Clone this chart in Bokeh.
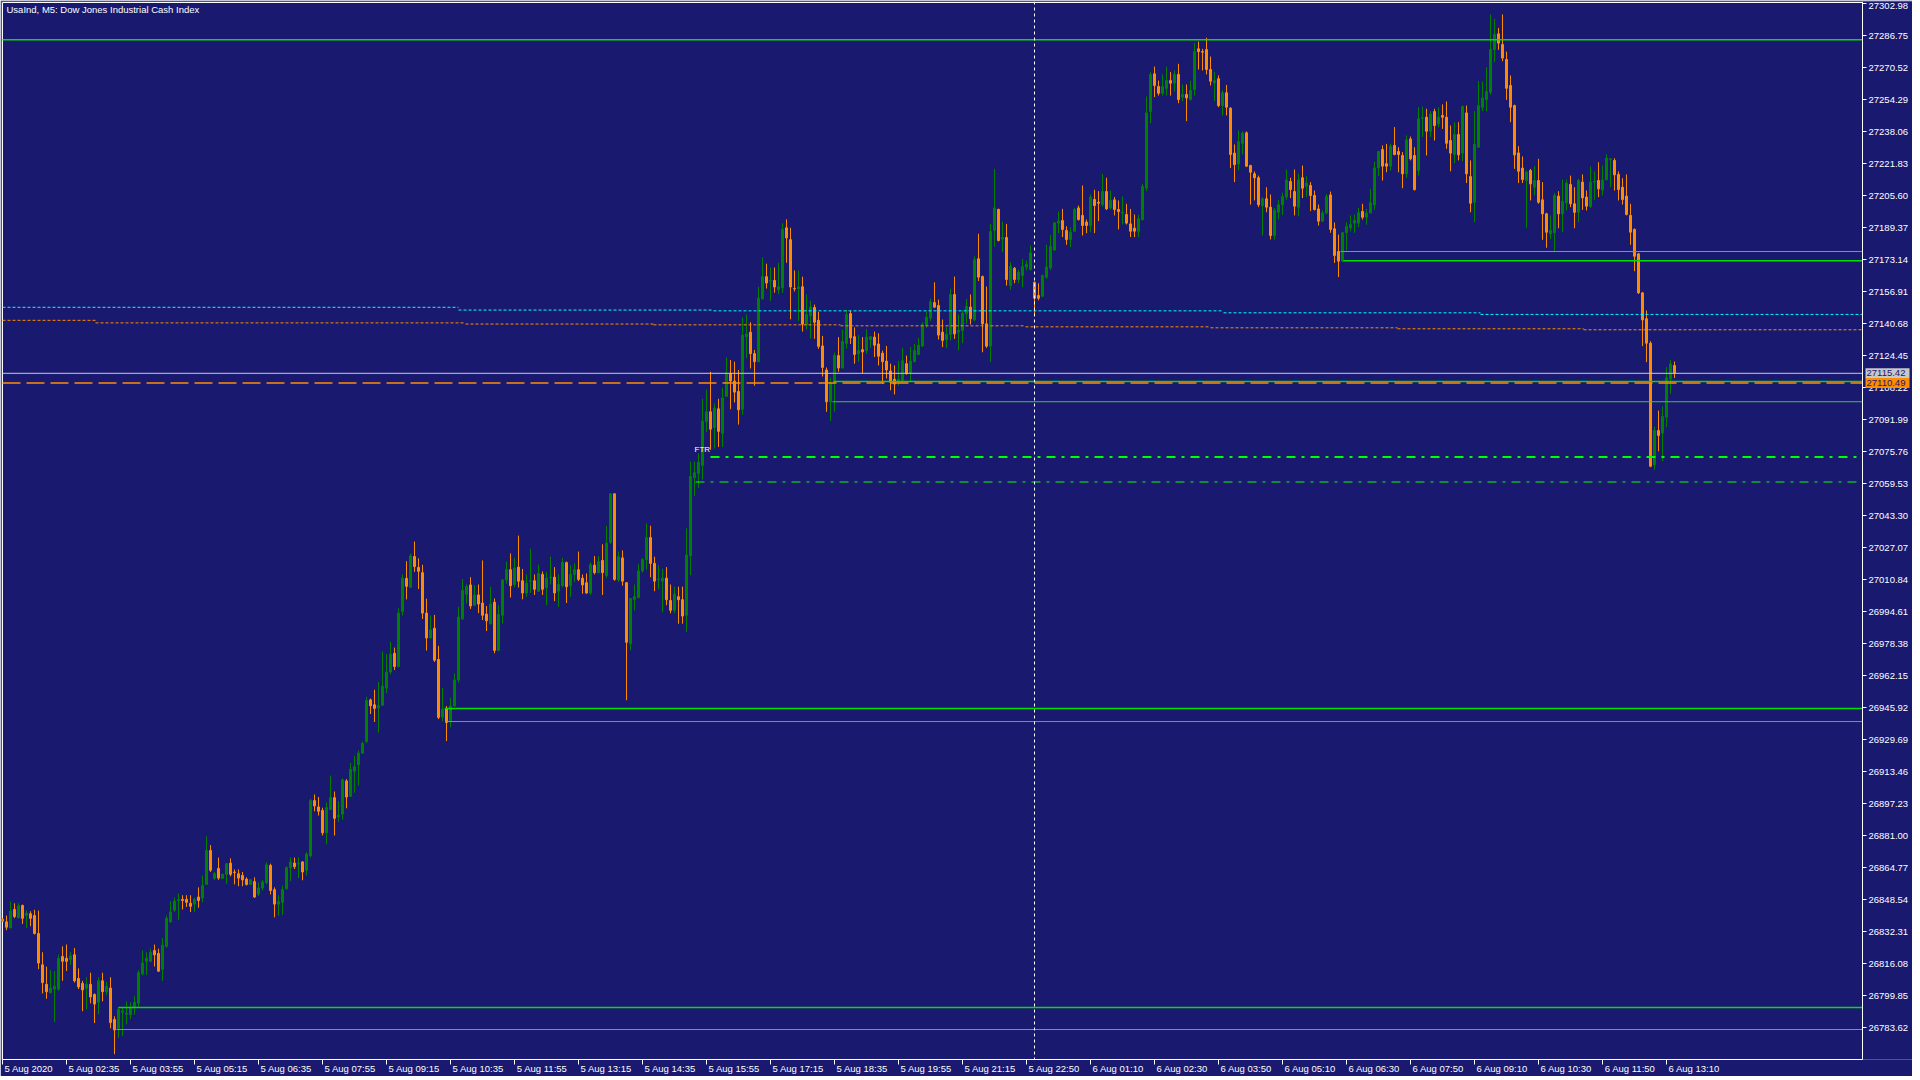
from bokeh.plotting import figure
from bokeh.models import (Range1d, FixedTicker, Label, Span, PrintfTickFormatter,
                          ColumnDataSource, LinearAxis)
from bokeh.core.properties import value
from bokeh.embed import file_html
from bokeh.resources import INLINE

TITLE = "UsaInd, M5:  Dow Jones Industrial Cash Index"

opens = [
26838.6, 26837.2, 26834.1, 26843.5, 26839.3, 26845.5, 26840.4, 26841.3, 26840.4, 26831.3,
26815.4, 26805.5, 26801.3, 26803.1, 26803.1, 26819.6, 26818.7, 26818.1, 26820.5, 26808.5,
26806.0, 26803.6, 26805.5, 26800.4, 26796.4, 26807.3, 26801.8, 26803.6, 26787.7, 26783.2,
26791.3, 26790.4, 26790.1, 26793.7, 26795.9, 26810.9, 26817.2, 26817.2, 26822.7, 26821.2,
26813.2, 26824.8, 26837.2, 26843.1, 26848.0, 26848.6, 26848.6, 26846.6, 26846.2, 26849.8,
26849.3, 26856.2, 26873.4, 26859.3, 26864.3, 26859.3, 26861.3, 26867.0, 26862.5, 26861.6,
26860.7, 26858.9, 26856.2, 26857.6, 26851.3, 26854.4, 26857.1, 26865.8, 26853.5, 26846.2,
26847.1, 26854.0, 26864.7, 26867.0, 26866.5, 26867.6, 26863.4, 26870.7, 26898.7, 26895.5,
26893.7, 26882.4, 26894.2, 26900.2, 26890.6, 26891.8, 26908.7, 26900.9, 26913.6, 26916.9,
26922.8, 26928.6, 26949.8, 26947.3, 26945.8, 26947.1, 26955.8, 26963.9, 26973.4, 26966.7,
26994.7, 27011.4, 27006.9, 27022.5, 27017.0, 27014.3, 26993.8, 26981.2, 26986.1, 26970.3,
26941.1, 26945.2, 26938.9, 26946.7, 26959.9, 26990.8, 27003.4, 27008.1, 26997.8, 27003.0,
26998.9, 26993.3, 26988.4, 26999.3, 26974.9, 26992.7, 27010.6, 27015.8, 27008.3, 27017.1,
27010.2, 27004.0, 27010.0, 27010.2, 27004.9, 27013.4, 27006.8, 27011.9, 27012.0, 27004.9,
27007.7, 27019.4, 27007.7, 27013.4, 27015.8, 27011.5, 27009.2, 27004.0, 27018.1, 27014.3,
27020.5, 27012.8, 27029.7, 27054.3, 27010.6, 27021.8, 27009.2, 26978.3, 27000.8, 27001.7,
27015.2, 27020.9, 27032.1, 27019.0, 27010.9, 27010.0, 27011.5, 27000.2, 26995.2, 27002.1,
27000.6, 26992.7, 27022.8, 27062.5, 27064.6, 27068.7, 27090.9, 27095.9, 27087.9, 27097.4,
27085.0, 27103.8, 27115.2, 27111.5, 27106.2, 27097.2, 27134.0, 27136.3, 27125.4, 27121.3,
27153.2, 27164.4, 27162.2, 27162.5, 27157.8, 27158.8, 27189.2, 27183.2, 27158.4, 27158.4,
27159.3, 27140.0, 27144.7, 27148.8, 27142.3, 27129.3, 27117.1, 27101.0, 27110.9, 27124.4,
27118.1, 27130.6, 27145.7, 27134.0, 27125.4, 27127.4, 27126.9, 27132.5, 27133.8, 27130.3,
27125.6, 27121.6, 27116.6, 27112.4, 27110.9, 27111.9, 27120.3, 27115.2, 27121.3, 27125.0,
27129.3, 27140.0, 27143.4, 27151.3, 27149.8, 27136.3, 27132.6, 27135.1, 27155.4, 27136.3,
27137.1, 27145.6, 27149.0, 27142.5, 27173.5, 27164.5, 27140.5, 27129.2, 27187.9, 27198.5,
27183.5, 27184.3, 27159.9, 27168.7, 27163.0, 27165.0, 27169.3, 27168.1, 27161.6, 27154.9,
27154.5, 27164.2, 27168.9, 27178.0, 27191.6, 27192.9, 27187.9, 27183.3, 27187.5, 27199.3,
27195.5, 27192.1, 27190.4, 27203.6, 27202.2, 27201.0, 27207.6, 27199.3, 27203.4, 27198.5,
27196.8, 27196.0, 27191.2, 27189.0, 27187.5, 27193.4, 27209.3, 27248.2, 27267.3, 27260.9,
27257.5, 27260.0, 27263.9, 27262.6, 27267.0, 27255.5, 27256.8, 27254.3, 27259.4, 27280.0,
27278.6, 27279.6, 27269.5, 27262.7, 27264.8, 27251.2, 27257.7, 27249.9, 27227.1, 27221.7,
27232.1, 27237.4, 27220.8, 27216.6, 27214.6, 27200.5, 27203.9, 27199.7, 27185.3, 27197.1,
27200.9, 27204.8, 27212.7, 27207.6, 27199.7, 27214.6, 27210.3, 27210.7, 27205.6, 27198.8,
27192.6, 27196.8, 27205.9, 27188.7, 27177.2, 27172.3, 27186.7, 27189.2, 27191.6, 27191.6,
27197.5, 27194.6, 27196.8, 27200.9, 27219.6, 27228.9, 27221.7, 27220.5, 27231.0, 27227.9,
27225.9, 27216.6, 27234.3, 27225.9, 27218.3, 27244.8, 27245.3, 27238.2, 27248.2, 27241.9,
27246.2, 27245.3, 27233.5, 27226.4, 27236.5, 27227.1, 27247.5, 27215.2, 27202.2, 27230.1,
27250.4, 27254.3, 27258.0, 27279.6, 27287.6, 27282.2, 27274.6, 27261.4, 27251.2, 27227.2,
27219.5, 27213.2, 27218.3, 27209.8, 27213.2, 27203.4, 27196.3, 27186.2, 27186.7, 27205.3,
27196.3, 27201.9, 27211.2, 27201.4, 27197.1, 27212.4, 27204.8, 27200.0, 27212.4, 27213.2,
27208.5, 27213.7, 27223.9, 27223.4, 27216.3, 27209.8, 27205.3, 27195.5, 27188.4, 27176.0,
27156.2, 27143.1, 27130.7, 27069.0, 27086.4, 27085.1, 27093.2, 27112.6, 27119.4]

highs = [
26839.0, 26840.4, 26847.5, 26846.6, 26846.6, 26846.0, 26843.1, 26842.6, 26843.3, 26842.9,
26821.8, 26814.5, 26812.7, 26812.2, 26820.5, 26824.8, 26825.7, 26821.8, 26823.9, 26813.6,
26807.3, 26809.1, 26811.4, 26800.9, 26809.1, 26811.4, 26806.7, 26809.1, 26789.3, 26794.0,
26794.0, 26796.8, 26796.4, 26799.5, 26812.7, 26822.7, 26821.8, 26823.6, 26825.7, 26823.6,
26829.0, 26840.4, 26847.7, 26849.5, 26851.6, 26850.7, 26850.7, 26850.7, 26849.5, 26854.7,
26860.7, 26880.6, 26876.1, 26862.5, 26869.8, 26861.6, 26867.0, 26869.4, 26863.8, 26863.8,
26862.5, 26859.8, 26858.9, 26859.8, 26857.1, 26858.5, 26867.4, 26866.7, 26854.7, 26850.7,
26855.6, 26865.2, 26869.8, 26869.8, 26869.8, 26868.0, 26872.5, 26899.6, 26901.8, 26900.5,
26895.1, 26897.8, 26911.4, 26903.3, 26898.4, 26910.0, 26909.6, 26917.8, 26921.4, 26924.1,
26928.6, 26951.3, 26950.4, 26954.9, 26958.9, 26974.3, 26973.0, 26979.3, 26976.3, 26996.2,
27013.4, 27020.1, 27024.1, 27030.1, 27021.6, 27018.3, 27001.1, 26992.6, 26992.9, 26977.2,
26955.8, 26946.7, 26950.9, 26963.1, 26997.0, 27011.1, 27008.3, 27012.0, 27008.0, 27008.3,
27020.5, 26997.4, 27007.2, 27001.2, 26997.8, 27011.1, 27019.9, 27024.1, 27021.8, 27033.1,
27016.2, 27013.4, 27026.5, 27013.4, 27018.4, 27014.9, 27014.7, 27022.4, 27017.1, 27013.4,
27021.8, 27020.0, 27018.1, 27019.0, 27025.0, 27013.4, 27013.9, 27019.6, 27022.7, 27022.7,
27028.7, 27038.1, 27054.5, 27054.5, 27025.0, 27025.6, 27009.5, 27001.5, 27008.3, 27018.6,
27021.8, 27039.3, 27038.1, 27022.4, 27018.1, 27016.2, 27017.1, 27008.3, 27007.2, 27007.2,
27007.2, 27036.8, 27070.6, 27070.6, 27074.9, 27102.5, 27107.2, 27116.2, 27100.1, 27102.5,
27108.1, 27123.5, 27122.2, 27121.3, 27117.1, 27143.8, 27145.3, 27141.3, 27127.3, 27159.3,
27174.2, 27171.0, 27169.1, 27169.1, 27171.5, 27191.6, 27193.5, 27189.2, 27167.6, 27167.6,
27164.4, 27155.4, 27152.2, 27150.3, 27146.6, 27134.4, 27118.4, 27113.2, 27125.9, 27133.8,
27137.6, 27147.5, 27147.2, 27138.7, 27134.8, 27133.8, 27137.8, 27134.4, 27136.6, 27135.7,
27126.9, 27129.3, 27120.3, 27119.4, 27121.8, 27128.4, 27124.4, 27128.8, 27130.3, 27133.4,
27141.3, 27146.6, 27153.2, 27161.6, 27152.8, 27142.7, 27139.1, 27158.3, 27164.5, 27145.2,
27147.3, 27153.2, 27155.4, 27174.7, 27186.2, 27165.0, 27159.4, 27191.2, 27219.1, 27199.0,
27192.4, 27191.2, 27171.8, 27169.3, 27167.9, 27173.5, 27172.6, 27180.2, 27162.0, 27161.1,
27165.5, 27180.6, 27185.6, 27192.1, 27197.5, 27198.8, 27190.0, 27189.5, 27199.3, 27200.5,
27210.7, 27193.4, 27206.1, 27208.5, 27207.8, 27216.6, 27214.6, 27208.1, 27204.8, 27203.1,
27205.1, 27201.4, 27198.8, 27196.0, 27195.8, 27211.5, 27255.8, 27268.2, 27271.0, 27263.9,
27267.0, 27271.0, 27268.2, 27269.0, 27272.4, 27261.9, 27261.9, 27263.9, 27282.9, 27283.7,
27280.0, 27285.6, 27276.1, 27268.2, 27266.5, 27258.9, 27261.7, 27250.4, 27231.5, 27238.6,
27238.1, 27238.1, 27221.2, 27217.8, 27215.7, 27204.8, 27209.8, 27206.1, 27199.3, 27203.4,
27207.0, 27218.8, 27214.6, 27218.8, 27216.6, 27220.8, 27215.4, 27212.4, 27208.1, 27201.0,
27198.0, 27206.4, 27207.6, 27191.9, 27185.8, 27187.2, 27192.1, 27195.5, 27196.0, 27199.3,
27201.4, 27198.8, 27209.0, 27222.8, 27228.1, 27231.0, 27231.8, 27231.8, 27240.3, 27230.1,
27227.6, 27236.0, 27235.5, 27230.1, 27250.4, 27250.7, 27249.6, 27248.4, 27249.6, 27250.4,
27251.8, 27253.3, 27241.1, 27242.8, 27242.8, 27251.2, 27251.2, 27223.4, 27248.4, 27263.6,
27263.4, 27270.7, 27297.4, 27295.2, 27290.6, 27297.4, 27278.6, 27266.5, 27251.7, 27230.6,
27225.4, 27218.3, 27219.1, 27220.5, 27224.2, 27212.4, 27196.8, 27195.5, 27206.8, 27207.8,
27213.7, 27213.7, 27215.7, 27209.8, 27214.1, 27216.3, 27208.1, 27220.3, 27217.8, 27222.5,
27220.8, 27226.4, 27224.5, 27224.5, 27217.8, 27214.4, 27216.3, 27201.4, 27188.9, 27176.5,
27156.7, 27147.3, 27131.7, 27088.4, 27096.5, 27098.6, 27118.5, 27122.3, 27121.4]

lows = [
26837.2, 26833.0, 26834.1, 26839.0, 26839.0, 26836.1, 26834.1, 26835.0, 26830.8, 26813.2,
26800.9, 26798.2, 26800.9, 26786.4, 26802.2, 26807.3, 26812.2, 26815.4, 26806.4, 26803.1,
26791.9, 26792.8, 26795.9, 26785.9, 26790.4, 26796.9, 26800.0, 26783.2, 26770.1, 26778.3,
26779.2, 26785.2, 26787.9, 26790.1, 26793.7, 26810.0, 26810.3, 26816.9, 26814.5, 26811.8,
26807.3, 26824.1, 26836.8, 26842.2, 26838.1, 26843.5, 26844.8, 26842.2, 26842.2, 26844.4,
26847.1, 26856.2, 26862.5, 26858.5, 26858.5, 26858.9, 26856.5, 26860.3, 26856.2, 26855.3,
26855.3, 26855.6, 26855.8, 26849.3, 26850.2, 26853.1, 26856.2, 26851.1, 26839.5, 26840.2,
26840.8, 26853.5, 26857.8, 26864.0, 26859.4, 26858.3, 26860.7, 26869.8, 26893.3, 26891.1,
26881.0, 26876.5, 26893.8, 26881.0, 26887.9, 26889.1, 26894.8, 26900.5, 26902.7, 26906.3,
26922.4, 26927.7, 26942.6, 26938.6, 26933.2, 26946.8, 26953.1, 26962.7, 26964.9, 26966.3,
26992.6, 27000.7, 27006.5, 27014.7, 27006.0, 26990.8, 26974.8, 26980.8, 26969.0, 26940.0,
26938.9, 26928.9, 26935.9, 26946.4, 26958.6, 26990.5, 26998.7, 26995.9, 26997.4, 26993.8,
26990.3, 26984.7, 26988.0, 26973.4, 26974.5, 26988.6, 27008.7, 27001.7, 27006.8, 27006.8,
27000.8, 27002.1, 27004.0, 27003.0, 27004.5, 27003.0, 26997.8, 27008.3, 26999.9, 26997.0,
27006.8, 26998.9, 27002.1, 27009.6, 27010.0, 27003.6, 27003.6, 27003.0, 27013.4, 27013.9,
27003.0, 27011.5, 27028.7, 27010.2, 27009.6, 27007.7, 26949.6, 26974.9, 26995.2, 27001.2,
27014.3, 27015.8, 27012.0, 27004.9, 27005.9, 26994.2, 26997.8, 26993.7, 26993.7, 26988.4,
26988.4, 26984.3, 27013.0, 27053.3, 27057.1, 27061.6, 27085.6, 27076.6, 27077.2, 27078.1,
27078.1, 27103.4, 27097.2, 27100.6, 27089.4, 27094.4, 27123.1, 27117.9, 27109.1, 27121.0,
27152.8, 27158.4, 27152.2, 27156.3, 27155.6, 27156.3, 27171.5, 27142.8, 27156.9, 27141.9,
27136.6, 27137.6, 27133.1, 27132.9, 27127.8, 27113.8, 27095.9, 27091.2, 27095.9, 27116.2,
27117.9, 27127.8, 27130.3, 27120.3, 27121.3, 27115.2, 27125.4, 27128.4, 27123.7, 27119.4,
27110.0, 27112.8, 27106.8, 27104.7, 27109.1, 27110.9, 27114.8, 27110.9, 27121.0, 27124.6,
27128.8, 27138.5, 27141.9, 27148.5, 27132.5, 27128.7, 27128.3, 27132.1, 27132.9, 27127.0,
27130.7, 27140.5, 27140.2, 27141.9, 27162.2, 27126.1, 27128.3, 27121.1, 27179.7, 27182.3,
27176.9, 27159.9, 27157.9, 27161.1, 27161.1, 27159.1, 27167.6, 27167.6, 27145.2, 27152.4,
27154.0, 27163.3, 27167.9, 27177.4, 27186.5, 27184.5, 27180.6, 27179.4, 27187.3, 27192.9,
27185.3, 27186.5, 27187.0, 27186.5, 27192.6, 27200.0, 27198.3, 27198.5, 27195.5, 27188.4,
27190.9, 27190.9, 27184.5, 27184.5, 27184.5, 27192.9, 27207.8, 27242.3, 27255.5, 27256.3,
27256.3, 27256.3, 27256.3, 27258.3, 27252.4, 27253.3, 27243.3, 27253.8, 27256.3, 27269.5,
27269.0, 27267.0, 27261.4, 27253.4, 27250.4, 27246.2, 27246.2, 27219.5, 27212.4, 27218.3,
27226.4, 27220.0, 27201.0, 27203.1, 27199.7, 27185.3, 27197.1, 27183.3, 27183.3, 27193.4,
27195.8, 27203.4, 27204.3, 27195.5, 27195.0, 27204.3, 27204.8, 27197.7, 27198.0, 27190.4,
27192.1, 27196.0, 27186.7, 27171.4, 27164.2, 27171.8, 27177.7, 27187.5, 27186.7, 27189.5,
27193.4, 27190.7, 27196.3, 27198.3, 27215.4, 27213.2, 27217.4, 27218.3, 27226.0, 27217.4,
27209.3, 27214.6, 27223.4, 27208.1, 27215.7, 27235.2, 27225.9, 27235.2, 27233.5, 27240.3,
27239.4, 27229.3, 27217.9, 27222.0, 27223.4, 27223.0, 27211.9, 27197.1, 27192.1, 27229.8,
27248.4, 27248.4, 27256.8, 27273.2, 27279.5, 27273.7, 27254.1, 27242.8, 27219.1, 27211.9,
27211.9, 27189.0, 27203.1, 27205.6, 27201.4, 27183.1, 27179.1, 27183.6, 27176.9, 27189.0,
27187.0, 27198.0, 27199.7, 27189.0, 27192.1, 27198.3, 27198.0, 27199.3, 27203.4, 27204.8,
27205.6, 27213.2, 27209.8, 27208.1, 27203.1, 27201.0, 27195.5, 27180.6, 27167.2, 27155.7,
27129.2, 27121.1, 27067.8, 27066.5, 27075.9, 27070.9, 27088.1, 27105.0, 27113.0]

closes = [
26837.5, 26834.5, 26842.6, 26839.9, 26845.3, 26839.0, 26841.7, 26839.0, 26831.3, 26816.3,
26806.4, 26801.8, 26803.6, 26804.5, 26818.7, 26817.2, 26817.2, 26819.9, 26807.3, 26804.2,
26802.7, 26805.5, 26799.1, 26795.5, 26807.3, 26801.8, 26804.5, 26786.1, 26782.4, 26792.8,
26791.9, 26790.8, 26794.0, 26796.4, 26811.4, 26816.3, 26818.7, 26821.8, 26820.5, 26812.2,
26825.4, 26839.0, 26842.2, 26847.7, 26848.4, 26848.0, 26847.1, 26845.1, 26848.6, 26848.0,
26855.6, 26873.4, 26863.4, 26861.6, 26859.4, 26861.3, 26866.7, 26861.3, 26862.2, 26859.4,
26858.5, 26856.2, 26858.5, 26849.8, 26854.4, 26857.4, 26866.1, 26853.1, 26846.2, 26847.5,
26853.5, 26864.7, 26867.6, 26865.2, 26866.7, 26862.5, 26871.6, 26898.7, 26896.0, 26893.3,
26882.4, 26895.1, 26900.2, 26889.7, 26891.1, 26909.2, 26900.5, 26914.5, 26915.9, 26922.8,
26927.7, 26949.5, 26946.8, 26945.5, 26946.8, 26956.7, 26963.9, 26973.0, 26966.7, 26993.8,
27011.6, 27007.4, 27022.8, 27017.4, 27015.0, 26993.8, 26981.2, 26985.3, 26969.9, 26940.9,
26944.9, 26938.3, 26946.7, 26959.9, 26991.8, 27005.3, 27007.2, 26997.4, 27003.0, 26998.4,
26992.7, 26989.9, 26998.4, 26974.9, 26993.1, 27010.6, 27015.8, 27007.7, 27016.6, 27010.0,
27004.0, 27009.0, 27010.2, 27005.9, 27013.9, 27005.9, 27011.5, 27012.0, 27004.0, 27008.3,
27019.4, 27007.2, 27013.4, 27015.8, 27010.9, 27008.1, 27004.0, 27018.4, 27014.3, 27019.9,
27014.3, 27029.3, 27054.3, 27010.9, 27022.4, 27010.0, 26979.0, 27001.2, 27002.1, 27015.2,
27020.9, 27032.1, 27019.0, 27010.0, 27011.1, 27011.5, 27000.6, 26995.2, 27003.4, 27000.6,
26992.3, 27023.3, 27063.1, 27065.0, 27070.2, 27091.2, 27095.9, 27087.1, 27097.8, 27086.0,
27102.9, 27115.6, 27111.5, 27105.9, 27096.9, 27134.8, 27135.3, 27125.4, 27121.3, 27153.5,
27164.4, 27161.2, 27162.5, 27159.2, 27159.3, 27188.4, 27184.1, 27159.2, 27158.2, 27159.2,
27140.4, 27145.3, 27149.0, 27141.3, 27129.1, 27118.4, 27101.0, 27110.9, 27124.4, 27118.1,
27131.6, 27145.3, 27133.4, 27125.0, 27126.9, 27126.3, 27133.8, 27134.0, 27129.7, 27124.1,
27121.3, 27117.1, 27110.9, 27110.0, 27112.3, 27121.8, 27115.2, 27121.6, 27126.9, 27129.7,
27140.0, 27143.8, 27151.7, 27149.0, 27134.8, 27132.1, 27135.1, 27155.4, 27135.4, 27137.1,
27145.9, 27149.3, 27143.1, 27173.0, 27164.2, 27140.5, 27129.2, 27187.3, 27199.3, 27182.8,
27184.3, 27163.0, 27169.6, 27163.0, 27166.7, 27169.6, 27170.6, 27176.5, 27153.5, 27153.5,
27165.0, 27169.3, 27179.7, 27191.7, 27192.6, 27188.4, 27183.3, 27187.0, 27198.5, 27193.4,
27190.4, 27190.4, 27204.8, 27200.5, 27201.7, 27207.6, 27198.8, 27203.1, 27198.5, 27197.5,
27197.1, 27191.6, 27187.5, 27187.5, 27193.8, 27210.2, 27247.5, 27267.0, 27261.4, 27257.5,
27260.9, 27263.9, 27262.6, 27267.0, 27254.3, 27256.8, 27255.1, 27258.9, 27278.6, 27278.6,
27278.3, 27269.5, 27263.6, 27263.9, 27251.2, 27257.7, 27250.4, 27226.4, 27221.3, 27233.0,
27237.2, 27220.5, 27217.4, 27214.6, 27200.9, 27203.9, 27199.7, 27185.3, 27198.0, 27200.9,
27205.1, 27213.5, 27208.6, 27200.2, 27213.5, 27209.3, 27211.9, 27205.6, 27198.5, 27192.6,
27196.8, 27205.1, 27188.4, 27175.2, 27172.3, 27186.7, 27189.9, 27190.9, 27192.9, 27196.8,
27194.6, 27196.8, 27201.9, 27219.6, 27227.9, 27220.5, 27220.5, 27230.6, 27226.4, 27226.4,
27216.6, 27233.8, 27224.2, 27208.6, 27244.5, 27245.0, 27238.2, 27247.0, 27241.1, 27245.3,
27245.3, 27232.1, 27227.1, 27236.5, 27226.2, 27250.7, 27216.6, 27201.7, 27231.5, 27251.2,
27255.1, 27258.4, 27279.6, 27287.3, 27282.9, 27275.3, 27260.0, 27250.4, 27226.2, 27217.9,
27213.7, 27217.4, 27211.5, 27213.2, 27202.2, 27196.3, 27187.0, 27187.9, 27205.6, 27196.3,
27202.6, 27211.9, 27201.4, 27197.1, 27213.2, 27204.4, 27200.2, 27212.4, 27212.7, 27209.0,
27213.5, 27224.5, 27224.2, 27216.1, 27208.6, 27203.6, 27196.0, 27187.0, 27174.8, 27156.2,
27142.5, 27130.7, 27068.3, 27086.4, 27083.9, 27093.5, 27113.1, 27120.2, 27115.42]

# price axis ticks
y_ticks = [27302.98, 27286.75, 27270.52, 27254.29, 27238.06, 27221.83, 27205.60, 27189.37,
           27173.14, 27156.91, 27140.68, 27124.45, 27108.22, 27091.99, 27075.76, 27059.53,
           27043.30, 27027.07, 27010.84, 26994.61, 26978.38, 26962.15, 26945.92, 26929.69,
           26913.46, 26897.23, 26881.00, 26864.77, 26848.54, 26832.31, 26816.08, 26799.85,
           26783.62]

# time axis ticks (bar index -> label)
x_tick_bars = [0, 16, 32, 48, 64, 80, 96, 112, 128, 144, 160, 176, 192, 208, 224, 240, 256,
               272, 288, 304, 320, 336, 352, 368, 384, 400, 416]
x_tick_labels = ["5 Aug 2020", "5 Aug 02:35", "5 Aug 03:55", "5 Aug 05:15", "5 Aug 06:35",
                 "5 Aug 07:55", "5 Aug 09:15", "5 Aug 10:35", "5 Aug 11:55", "5 Aug 13:15",
                 "5 Aug 14:35", "5 Aug 15:55", "5 Aug 17:15", "5 Aug 18:35", "5 Aug 19:55",
                 "5 Aug 21:15", "5 Aug 22:50", "6 Aug 01:10", "6 Aug 02:30", "6 Aug 03:50",
                 "6 Aug 05:10", "6 Aug 06:30", "6 Aug 07:50", "6 Aug 09:10", "6 Aug 10:30",
                 "6 Aug 11:50", "6 Aug 13:10"]

# horizontal level lines (price, start bar)
green_levels = [27284.6, 27172.5, 27111.3, 26945.4, 26793.8]
green_starts = [0, 335.2, 207.75, 110.5, 29.0]
green2_levels = [27177.2, 27101.0, 26938.8, 26782.6]
green2_starts = [334.5, 207.5, 111.2, 28.5]
dashdot_levels = [27073.0, 27060.3]
dashdot_starts = [177.0, 173.25]
bid_price = 27115.42
line_price = 27110.49
cursor_bar = 258

cyan_x0 = [0, 114, 177.75, 305.25, 369.5]
cyan_x1 = [114, 177.75, 305.25, 369.5, 465]
cyan_y = [27148.9, 27147.5, 27147.1, 27146.1, 27145.3]
odot_x0 = [0, 23.25, 115.75, 162.75, 209.5, 255.75, 302, 348.75, 395.25]
odot_x1 = [23.25, 115.75, 162.75, 209.5, 255.75, 302, 348.75, 395.25, 465]
odot_y = [27142.3, 27141.0, 27140.4, 27140.0, 27139.5, 27139.0, 27138.5, 27138.0, 27137.5]

BG = "#191970"
UP = "#008000"
DN = "#FF8C00"
FONT = "Liberation Sans"
FS = 9.5
X_END = 465            # right edge of the chart (price scale line)
PX_PER_BAR = 4.0
FRAME_W = 1911
FRAME_H = 1058
Y_BOT, Y_TOP = 26767.39, 27304.0
CHART_TOP = 27303.49   # chart border line

n = len(opens)
xs = list(range(n))
cols = [UP if c >= o else DN for o, c in zip(opens, closes)]
src = ColumnDataSource(dict(
    x=xs, h=highs, l=lows,
    top=[max(o, c) for o, c in zip(opens, closes)],
    bot=[min(o, c) for o, c in zip(opens, closes)],
    col=cols))

X0 = -0.25
p = figure(frame_width=FRAME_W, frame_height=FRAME_H,
           x_range=Range1d(X0, X0 + FRAME_W / PX_PER_BAR), y_range=Range1d(Y_BOT, Y_TOP),
           y_axis_location=None, output_backend="svg", toolbar_location=None,
           min_border_left=1, min_border_top=1, min_border_right=0, min_border_bottom=0,
           background_fill_color=BG, border_fill_color=BG, outline_line_color=None)
p.grid.visible = False

# price axis, drawn at the chart's right edge, labels to its right
ya = LinearAxis(fixed_location=X_END, ticker=FixedTicker(ticks=y_ticks),
                formatter=PrintfTickFormatter(format="%.2f"),
                major_label_overrides={y_ticks[0]: ""},
                axis_line_color="white", major_tick_line_color="white",
                minor_tick_line_color=None, major_tick_in=0, major_tick_out=4,
                major_label_standoff=2, major_label_text_color="white",
                major_label_text_font=FONT, major_label_text_font_size=f"{FS}px")
p.add_layout(ya, "right")

# time axis: tick marks at the bars
xa = p.xaxis[0]
xa.bounds = (0, X_END)
xa.ticker = FixedTicker(ticks=x_tick_bars)
xa.major_label_overrides = {b: "" for b in x_tick_bars}
xa.major_label_text_font_size = "0px"
xa.major_label_standoff = 0
xa.axis_line_color = "white"
xa.major_tick_line_color = "white"
xa.minor_tick_line_color = None
xa.major_tick_in = 0
xa.major_tick_out = 5

# time labels, left-aligned at their ticks (MT4 style)
char_w = {" ": 0.278, ":": 0.278, "A": 0.667, "u": 0.556, "g": 0.556}
def text_w(s):
    return sum(char_w.get(ch, 0.556) for ch in s) * FS
label_pos = [b + (2 + text_w(t) / 2) / PX_PER_BAR for b, t in zip(x_tick_bars, x_tick_labels)]
xl = LinearAxis(ticker=FixedTicker(ticks=label_pos),
                major_label_overrides={pos: t for pos, t in zip(label_pos, x_tick_labels)},
                axis_line_color=None, major_tick_line_color=None, minor_tick_line_color=None,
                major_tick_in=0, major_tick_out=0, major_label_standoff=-2,
                major_label_text_color="white", major_label_text_font=FONT,
                major_label_text_font_size=f"{FS}px")
p.add_layout(xl, "below")

# chart border (left / top)
p.quad(left=[0], right=[X_END], bottom=[Y_BOT], top=[CHART_TOP], fill_color=None,
       line_color="white", line_width=1)

# candles
p.segment(x0="x", y0="l", x1="x", y1="h", color="col", line_width=1, source=src)
p.vbar(x="x", top="top", bottom="bot", width=0.5, fill_color="col", line_color="col",
       line_width=1, source=src)

# dotted step lines
p.segment(x0=cyan_x0, x1=cyan_x1, y0=cyan_y, y1=cyan_y, line_color="#00FFFF",
          line_width=1, line_dash="3 2")
p.segment(x0=odot_x0, x1=odot_x1, y0=odot_y, y1=odot_y, line_color=DN,
          line_width=1, line_dash="3 2")

# level lines
p.segment(x0=green_starts, x1=[X_END] * len(green_levels), y0=green_levels, y1=green_levels,
          line_color="#00E000", line_width=1.5)
p.segment(x0=green2_starts, x1=[X_END] * len(green2_levels), y0=green2_levels,
          y1=green2_levels, line_color="#32CD32", line_width=1)
p.segment(x0=dashdot_starts[:1], x1=[X_END], y0=dashdot_levels[:1], y1=dashdot_levels[:1],
          line_color="#00FF00", line_width=2, line_dash="9 6 3 6")
p.segment(x0=dashdot_starts[1:], x1=[X_END], y0=dashdot_levels[1:], y1=dashdot_levels[1:],
          line_color="#00FF00", line_width=1, line_dash="9 6 3 6")
p.segment(x0=[0], x1=[X_END], y0=[bid_price], y1=[bid_price], line_color="#C8C8D0",
          line_width=1)
p.segment(x0=[0], x1=[X_END], y0=[line_price], y1=[line_price], line_color=DN,
          line_width=1.5, line_dash="18 6")
p.add_layout(Span(location=cursor_bar, dimension="height", line_color="white", line_width=1,
                  line_dash="3 3"))

# top price label, nudged inside the window
p.text(x=[X_END + 6 / PX_PER_BAR], y=[y_ticks[0]], text=[f"{y_ticks[0]:.2f}"],
       text_baseline="middle", text_align="left", y_offset=2, text_color="white",
       text_font=value(FONT), text_font_size=value(f"{FS}px"))

# price tags on the scale
tag_prices = [bid_price, line_price]
tag_fill = ["#C8C8C8", DN]
tag_x = X_END + (3 + 22) / PX_PER_BAR
r1 = p.rect(x=[tag_x] * 2, y=tag_prices, width=44, height=10, width_units="screen",
            height_units="screen", fill_color=tag_fill, line_color=None)
r2 = p.text(x=[X_END + 4 / PX_PER_BAR] * 2, y=tag_prices,
            text=[f"{v:.2f}" for v in tag_prices], text_baseline="middle",
            text_align="left", text_color=BG, text_font=value(FONT),
            text_font_size=value(f"{FS}px"))
r1.level = "overlay"
r2.level = "overlay"

# texts
p.add_layout(Label(x=1.0, y=27299.8, text=TITLE, text_baseline="middle",
                   text_align="left", text_color="white", text_font=FONT,
                   text_font_size=f"{FS}px"))
p.add_layout(Label(x=173, y=27076.8, text="FTR", text_baseline="middle", text_align="left",
                   text_color="white", text_font=FONT, text_font_size="8px"))

open("out.html", "w").write(file_html(p, INLINE))
